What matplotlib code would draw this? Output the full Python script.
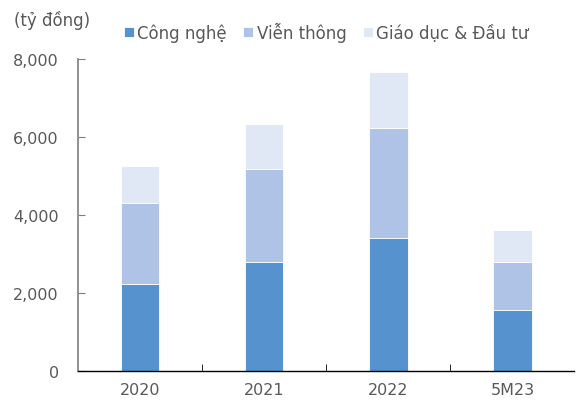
import matplotlib.pyplot as plt
import numpy as np
from matplotlib.ticker import FuncFormatter, FixedLocator

plt.rcParams['font.family'] = ['DejaVu Sans']

# dữ liệu (tỷ đồng)
categories = ["2020", "2021", "2022", "5M23"]
cong_nghe = [2230, 2800, 3410, 1560]
vien_thong = [2080, 2380, 2820, 1230]
giao_duc = [950, 1150, 1440, 820]
series_names = ["Công nghệ", "Viễn thông", "Giáo dục & Đầu tư"]
colors = ["#5592CE", "#AEC3E5", "#E0E8F6"]

fig = plt.figure(figsize=(5.79, 4.10), dpi=100)
ax = fig.add_axes([0.135, 0.093, 0.857, 0.761])

x = np.arange(len(categories))
w = 0.31
bottom = np.zeros(len(categories))
for vals, name, c in zip([cong_nghe, vien_thong, giao_duc], series_names, colors):
    ax.bar(x, vals, w, bottom=bottom, color=c, label=name, edgecolor="white", linewidth=0.6)
    bottom += np.array(vals)

ax.set_xlim(-0.5, 3.5)
ax.set_ylim(0, 8000)
ax.set_yticks([0, 2000, 4000, 6000, 8000])
ax.yaxis.set_major_formatter(FuncFormatter(lambda v, p: f"{int(v):,}"))
ax.set_xticks(x)
ax.set_xticklabels(categories)
ax.xaxis.set_minor_locator(FixedLocator([0.5, 1.5, 2.5]))

txt = "#595959"
for s in ["top", "right"]:
    ax.spines[s].set_visible(False)
ax.spines["left"].set_color("#7f7f7f")
ax.spines["left"].set_linewidth(1.2)
ax.spines["bottom"].set_color("black")
ax.spines["bottom"].set_linewidth(1.0)

ax.tick_params(axis="y", direction="in", length=5, color="#7f7f7f", labelcolor=txt, labelsize=11.5, pad=14)
ax.tick_params(axis="x", which="major", length=0, labelcolor=txt, labelsize=11.5, pad=8)
ax.tick_params(axis="x", which="minor", direction="in", length=5, color="black")

fig.text(0.024, 0.95, "(tỷ đồng)", fontsize=12, color=txt, va="center")
ax.legend(loc="center", bbox_to_anchor=(0.5, 1.087), ncol=3, frameon=False, fontsize=12,
          handlelength=0.6, handleheight=0.6, handletextpad=0.2, columnspacing=1.0,
          labelcolor=txt)

fig.savefig("out.png", dpi=100)
